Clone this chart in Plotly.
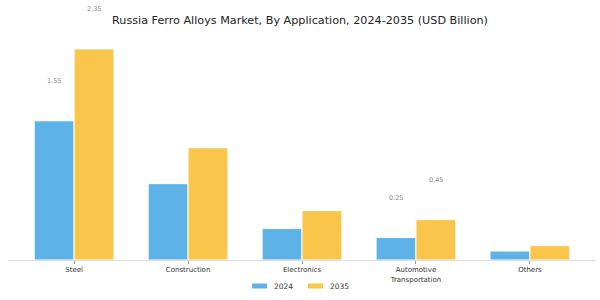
import plotly.graph_objects as go

categories = ["Steel", "Construction", "Electronics", "Automotive<br>Transportation", "Others"]
years = ["2024", "2035"]
values_2024 = [1.55, 0.85, 0.35, 0.25, 0.10]
values_2035 = [2.35, 1.25, 0.55, 0.45, 0.16]
# which bars carry a value label (category index)
labelled = [0, 3]

colors = {"2024": "#5DB3E8", "2035": "#F9C54B"}
FONT = "DejaVu Sans"

fig = go.Figure()
for yr, vals in zip(years, [values_2024, values_2035]):
    fig.add_trace(go.Bar(
        x=categories, y=vals, name=yr,
        marker=dict(color=colors[yr], line=dict(color="white", width=1)),
        showlegend=False, hoverinfo="skip",
    ))

# value labels, floating above the bars
for i in labelled:
    for yr, vals, shift in [("2024", values_2024, -20), ("2035", values_2035, 20)]:
        fig.add_annotation(
            x=categories[i], y=vals[i], text=f"{vals[i]:.2f}",
            xref="x", yref="y", showarrow=False,
            xshift=shift, yshift=40, yanchor="middle",
            font=dict(family=FONT, size=6.5, color="#888888"),
        )

# manual legend
W, H = 588, 220
def px(x):
    return (x - 8) / W
def py(y):
    return (260 - y) / H

for yr, x0 in [("2024", 252), ("2035", 308)]:
    fig.add_shape(type="rect", xref="paper", yref="paper",
                  x0=px(x0), x1=px(x0 + 15), y0=py(288.5), y1=py(283.5),
                  fillcolor=colors[yr], line=dict(width=0))
    fig.add_annotation(x=px(x0 + 20), y=py(286), xref="paper", yref="paper",
                       text=yr, showarrow=False, xanchor="left", yanchor="middle",
                       font=dict(family=FONT, size=7.5, color="#333333"))

fig.update_layout(
    width=600, height=300,
    margin=dict(l=8, r=4, t=40, b=40),
    paper_bgcolor="white", plot_bgcolor="white",
    barmode="group", bargap=0.30, bargroupgap=0,
    showlegend=False,
    title=dict(text="Russia Ferro Alloys Market, By Application, 2024-2035 (USD Billion)",
               x=0.5, xanchor="center", y=1 - 20 / 300, yanchor="middle",
               font=dict(family=FONT, size=11.2, color="#222222")),
    font=dict(family=FONT),
)
fig.update_xaxes(
    range=[-0.58, 4.58], showline=True, linecolor="#dddddd", linewidth=1,
    ticks="outside", ticklen=3, tickcolor="#999999",
    tickfont=dict(family=FONT, size=7, color="#333333"),
    showgrid=False,
)
fig.update_yaxes(range=[0, 220 / 89.8], visible=False, showgrid=False)

fig.write_html("out.html")
